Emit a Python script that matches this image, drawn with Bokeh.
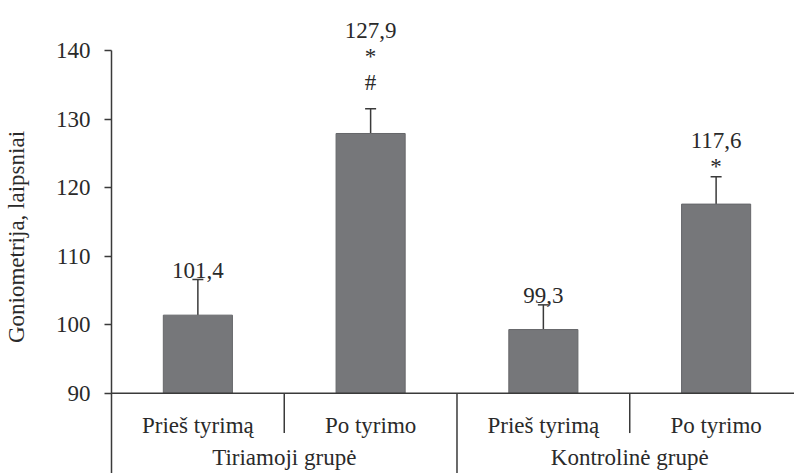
from bokeh.plotting import figure
from bokeh.models import Range1d, FixedTicker, Span, Whisker, TeeHead, ColumnDataSource, LinearAxis
from bokeh.core.properties import value
from bokeh.embed import file_html
from bokeh.resources import INLINE

# ---- data ----
groups = ["Tiriamoji grupė", "Kontrolinė grupė"]
subgroups = ["Prieš tyrimą", "Po tyrimo", "Prieš tyrimą", "Po tyrimo"]
means = [101.4, 127.9, 99.3, 117.6]
sds = [5.2, 3.6, 3.6, 4.0]
marks = [[], ["*", "#"], [], ["*"]]
y_ticks = [90, 100, 110, 120, 130, 140]

# ---- layout / style ----
FONT = value("Liberation Serif")
FS = "23px"
TXT = "#2a2a2a"
LINE = "#3a3a3a"
BAR = "#76777a"

W, H = 794, 473
LEFT = 110
x_end = (W - LEFT) / 173.0
y_lo, y_hi = 78.3, 147.3

p = figure(width=W, height=H, output_backend="svg", toolbar_location=None,
           x_range=Range1d(0, x_end), y_range=Range1d(y_lo, y_hi),
           x_axis_location=None, y_axis_location=None,
           min_border_left=LEFT, min_border_right=0, min_border_top=0, min_border_bottom=0)
p.outline_line_color = None
p.xgrid.visible = False
p.ygrid.visible = False
p.background_fill_color = "white"

yaxis = LinearAxis(ticker=FixedTicker(ticks=y_ticks), bounds=(y_lo, y_ticks[-1]))
yaxis.axis_label = "Goniometrija, laipsniai"
yaxis.axis_label_text_font = "Liberation Serif"
yaxis.axis_label_text_font_size = FS
yaxis.axis_label_text_font_style = "normal"
yaxis.axis_label_text_color = TXT
yaxis.axis_label_standoff = 24
yaxis.major_label_text_font = "Liberation Serif"
yaxis.major_label_text_font_size = FS
yaxis.major_label_text_color = TXT
yaxis.major_label_standoff = 14
yaxis.major_tick_in = 0
yaxis.major_tick_out = 7
yaxis.major_tick_line_color = LINE
yaxis.major_tick_line_width = 1.5
yaxis.minor_tick_line_color = None
yaxis.axis_line_color = LINE
yaxis.axis_line_width = 1.5
p.add_layout(yaxis, "left")

xs = [i + 0.5 for i in range(len(means))]
src = ColumnDataSource(dict(x=xs, top=means, upper=[m + s for m, s in zip(means, sds)]))

p.vbar(x="x", top="top", bottom=y_ticks[0], width=0.4, source=src,
       fill_color=BAR, line_color="#66676a", line_width=1)

p.add_layout(Whisker(base="x", lower="top", upper="upper", source=src, dimension="height",
                     line_color=LINE, line_width=1.5, lower_head=None,
                     upper_head=TeeHead(size=11, line_color=LINE, line_width=1.5)))

# x-axis line at y = 90
p.add_layout(Span(location=y_ticks[0], dimension="width", line_color=LINE, line_width=1.5))

# category separators
n = len(means)
sep_x, sep_y1 = [], []
for k in range(1, n):
    sep_x.append(k)
    sep_y1.append(y_lo if k % 2 == 0 else 84.2)
p.segment(x0=sep_x, y0=[y_ticks[0]] * len(sep_x), x1=sep_x, y1=sep_y1,
          line_color=LINE, line_width=1.5)

# category labels
p.text(x=xs, y=[85.33] * n, text=subgroups, text_font=FONT, text_font_size=FS,
       text_color=TXT, text_align="center", text_baseline="alphabetic")
gx = [1.0 + 2 * g for g in range(len(groups))]
p.text(x=gx, y=[80.6] * len(groups), text=groups, text_font=FONT, text_font_size=FS,
       text_color=TXT, text_align="center", text_baseline="alphabetic")

# value labels + significance marks
gaps = [9, 26, 9, 10]
lx, ly, lt, lo = [], [], [], []
for i, (m, s) in enumerate(zip(means, sds)):
    lines = list(reversed(marks[i])) + [f"{m:.1f}".replace(".", ",")]
    for k, t in enumerate(lines):
        lx.append(xs[i]); ly.append(m + s); lt.append(t); lo.append(-(gaps[i] + 26 * k))
p.text(x=lx, y=ly, text=lt, y_offset=lo, text_font=FONT, text_font_size=FS,
       text_color=TXT, text_align="center", text_baseline="alphabetic")

open("out.html", "w").write(file_html(p, INLINE))
